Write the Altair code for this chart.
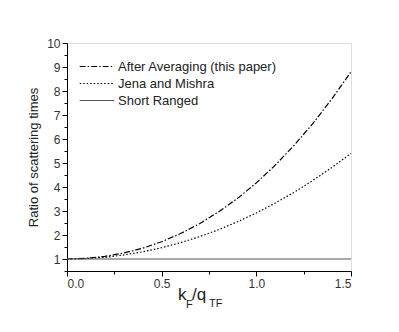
import altair as alt
import pandas as pd

x_vals = [0.0, 0.1, 0.2, 0.3, 0.4, 0.5, 0.6, 0.7, 0.8, 0.9, 1.0, 1.1, 1.2, 1.3, 1.4, 1.5]
after_avg = [1.00, 1.03, 1.11, 1.25, 1.45, 1.72, 2.06, 2.47, 2.96, 3.52, 4.17, 4.91, 5.74, 6.66, 7.68, 8.80]
jena = [1.00, 1.02, 1.07, 1.17, 1.30, 1.47, 1.68, 1.93, 2.22, 2.55, 2.92, 3.33, 3.78, 4.28, 4.82, 5.40]
short = [1.0] * len(x_vals)
series = ["After Averaging (this paper)", "Jena and Mishra", "Short Ranged"]
x_ticks = [0.0, 0.25, 0.5, 0.75, 1.0, 1.25, 1.5]
y_ticks = [0.5 * i for i in range(1, 21)]

rows = []
for name, ys in zip(series, [after_avg, jena, short]):
    for xv, yv in zip(x_vals, ys):
        rows.append({"x": xv, "y": yv, "s": name})
df = pd.DataFrame(rows)

FONT = "Liberation Sans"

legend = alt.Legend(title=None, orient="none", legendX=12, legendY=17,
                    symbolType="stroke", symbolSize=1200, symbolStrokeWidth=1.2,
                    labelFont=FONT, labelFontSize=13, labelColor="#222",
                    clipHeight=13, rowPadding=3, padding=0, labelOffset=3)

lines = alt.Chart(df).mark_line(strokeWidth=1.2).encode(
    x=alt.X("x:Q", scale=alt.Scale(domain=[0, 1.5], nice=False),
            axis=alt.Axis(values=x_ticks, title=None, grid=False,
                          labelExpr="datum.value % 0.5 === 0 ? format(datum.value, '.1f') : ''",
                          tickSize={"condition": {"test": "datum.value % 0.5 === 0", "value": 5}, "value": 3},
                          labelFontSize=12, labelFont=FONT, labelColor="#333",
                          labelPadding=2, domainColor="black", tickColor="black")),
    y=alt.Y("y:Q", scale=alt.Scale(domain=[0.5, 10], nice=False),
            axis=alt.Axis(values=y_ticks, title="Ratio of scattering times", grid=False,
                          labelExpr="datum.value % 1 === 0 ? format(datum.value, 'd') : ''",
                          tickSize={"condition": {"test": "datum.value % 1 === 0", "value": 5}, "value": 3},
                          labelFontSize=12, labelFont=FONT, labelColor="#333", labelPadding=2,
                          titleFont=FONT, titleFontSize=13, titleFontWeight="normal", titleColor="#222",
                          titlePadding=6, domainColor="black", tickColor="black")),
    color=alt.Color("s:N", scale=alt.Scale(domain=series, range=["black", "black", "#555"]), legend=legend),
    strokeDash=alt.StrokeDash("s:N", scale=alt.Scale(domain=series,
                              range=[[6, 2, 1.5, 2], [1.5, 2], [1, 0]]), legend=legend),
)

def piece(txt, xp, yp, size):
    return alt.Chart(alt.Data(values=[{}])).mark_text(
        align="left", baseline="alphabetic", font=FONT, fontSize=size, color="#222"
    ).encode(x=alt.value(xp), y=alt.value(yp), text=alt.value(txt))

title = piece("k", 111, 257, 17) + piece("F", 119, 265, 11) + piece("/q", 125, 257, 17) + piece("TF", 142, 264, 11)

chart = (lines + title).properties(
    width=284, height=228,
    autosize=alt.AutoSizeParams(type="none"),
    padding={"left": 59, "top": 35, "right": 40, "bottom": 53},
).configure_view(stroke="#333", strokeWidth=1).configure(background="white")

chart.save("out.html", embed_options={"renderer": "svg", "actions": False})
